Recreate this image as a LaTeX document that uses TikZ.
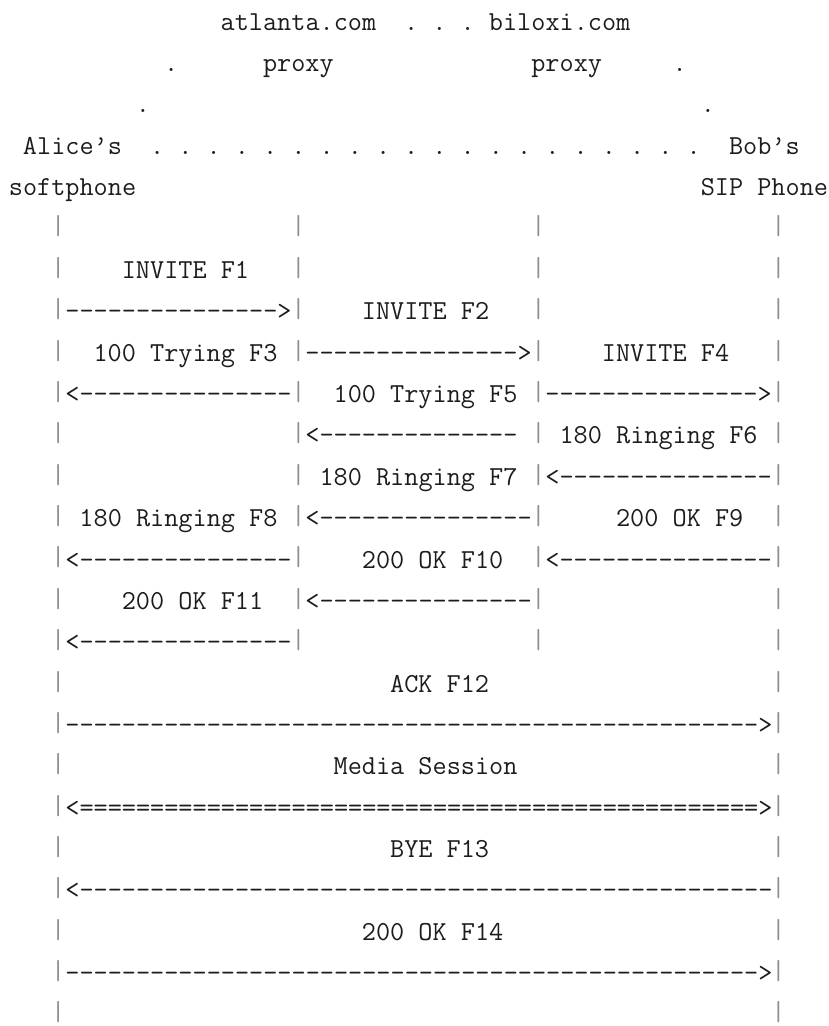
\documentclass[tikz,border=0pt]{standalone}
\usepackage{fontspec}
\definecolor{inkc}{HTML}{1C1C1C}
\definecolor{barc}{HTML}{8E8E8E}
\newcommand{\sipcell}[4]{\node[txt] (#1) at ({14.12*#2-75.84},{30.2+41.37*#3}) {#4};}
\tikzset{
  monofont/.style={font=\ttfamily\fontsize{27.46}{30}\selectfont},
  txt/.style={monofont, text=inkc, inner sep=0pt, outer sep=0pt, anchor=base west},
  barglyph/.style={monofont, text=barc, inner sep=0pt, outer sep=0pt, anchor=center}
}
\begin{document}
\begin{tikzpicture}[x=1pt,y=-1pt]
\useasboundingbox (0,0) rectangle (829,1026);
% header rows
\sipcell{atl}{21}{0}{atlanta.com}
\sipcell{d0a}{34}{0}{.}
\sipcell{d0b}{36}{0}{.}
\sipcell{d0c}{38}{0}{.}
\sipcell{bil}{40}{0}{biloxi.com}
\sipcell{d1a}{17}{1}{.}
\sipcell{pxa}{24}{1}{proxy}
\sipcell{pxb}{43}{1}{proxy}
\sipcell{d1b}{53}{1}{.}
\sipcell{d2a}{15}{2}{.}
\sipcell{d2b}{55}{2}{.}
\sipcell{alice}{7}{3}{Alice’s}
\foreach \c in {16,18,...,54} { \sipcell{dot\c}{\c}{3}{.} }
\sipcell{bob}{57}{3}{Bob’s}
\sipcell{soft}{6}{4}{softphone}
\sipcell{sip}{55}{4}{SIP Phone}
% vertical bars
\foreach \r in {5,...,15} {
  \foreach \c/\n in {9/a,26/b,43/c,60/d} {
    \node[barglyph] (bar\n\r) at ({14.12*\c-68.78},{19.7+41.37*\r}) {|};
  }
}
\foreach \r in {16,...,24} {
  \foreach \c/\n in {9/a,60/d} {
    \node[barglyph] (bar\n\r) at ({14.12*\c-68.78},{19.7+41.37*\r}) {|};
  }
}
% messages
\sipcell{l1}{14}{6}{INVITE F1}
\sipcell{a1}{10}{7}{--------------->}
\sipcell{l2}{31}{7}{INVITE F2}
\sipcell{l3}{12}{8}{100 Trying F3}
\sipcell{a2}{27}{8}{--------------->}
\sipcell{l4}{48}{8}{INVITE F4}
\sipcell{a3}{10}{9}{<---------------}
\sipcell{l5}{29}{9}{100 Trying F5}
\sipcell{a4}{44}{9}{--------------->}
\sipcell{a5}{27}{10}{<--------------}
\sipcell{l6}{45}{10}{180 Ringing F6}
\sipcell{l7}{28}{11}{180 Ringing F7}
\sipcell{a6}{44}{11}{<---------------}
\sipcell{l8}{11}{12}{180 Ringing F8}
\sipcell{a7}{27}{12}{<---------------}
\sipcell{l9}{49}{12}{200 OK F9}
\sipcell{a8}{10}{13}{<---------------}
\sipcell{l10}{31}{13}{200 OK F10}
\sipcell{a9}{44}{13}{<---------------}
\sipcell{l11}{14}{14}{200 OK F11}
\sipcell{a10}{27}{14}{<---------------}
\sipcell{a11}{10}{15}{<---------------}
\sipcell{l12}{33}{16}{ACK F12}
\sipcell{a12}{10}{17}{------------------------------------------------->}
\sipcell{l13}{29}{18}{Media Session}
\sipcell{a13}{10}{19}{<================================================>}
\sipcell{l14}{33}{20}{BYE F13}
\sipcell{a14}{10}{21}{<-------------------------------------------------}
\sipcell{l15}{31}{22}{200 OK F14}
\sipcell{a15}{10}{23}{------------------------------------------------->}
\end{tikzpicture}
\end{document}
